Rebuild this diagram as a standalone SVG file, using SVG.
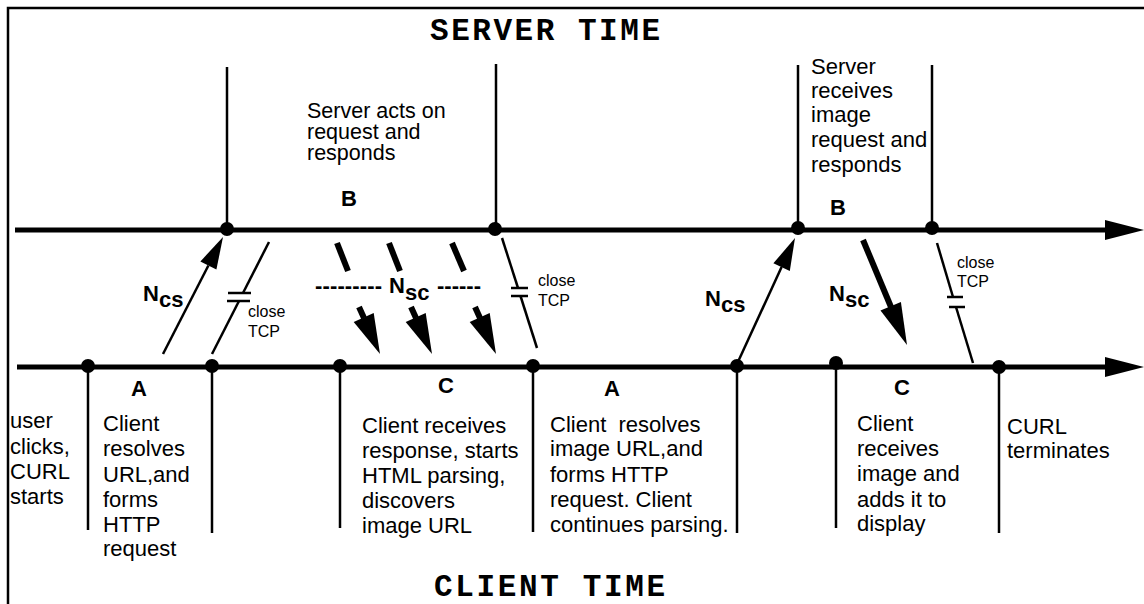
<svg xmlns="http://www.w3.org/2000/svg" width="1144" height="604" viewBox="0 0 1144 604">
  <style>
    .txt { font-family: "Liberation Sans", Arial, sans-serif; font-size: 22px; fill: #000; }
    .txt-tight { font-family: "Liberation Sans", Arial, sans-serif; font-size: 21.5px; fill: #000; }
    .small { font-family: "Liberation Sans", Arial, sans-serif; font-size: 16px; fill: #000; }
    .lbl { font-family: "Liberation Sans", Arial, sans-serif; font-size: 22px; font-weight: bold; fill: #000; }
    .title { font-family: "Liberation Mono", "Courier New", monospace; font-size: 31px; font-weight: bold; fill: #000; }
    .axis { stroke: #000; stroke-width: 5; fill: none; }
    .tick { stroke: #000; stroke-width: 2.5; fill: none; }
    .thin { stroke: #000; stroke-width: 2.5; fill: none; }
    .thick { stroke: #000; stroke-width: 6; fill: none; }
    .head { fill: #000; stroke: none; }
    .dot { fill: #000; }
  </style>

  <!-- outer frame -->
  <path d="M8,610 V8 H1150" fill="none" stroke="#000" stroke-width="2.5"/>

  <!-- titles -->
  <text class="title" x="430" y="40" textLength="230" lengthAdjust="spacing">SERVER TIME</text>
  <text class="title" x="434" y="596" textLength="231" lengthAdjust="spacing">CLIENT TIME</text>

  <!-- time axes -->
  <g id="server-axis">
    <line class="axis" x1="15" y1="230" x2="1106" y2="230"/>
    <polygon class="head" points="1105,220 1144,230 1105,240"/>
  </g>
  <g id="client-axis">
    <line class="axis" x1="17" y1="367" x2="1106" y2="367"/>
    <polygon class="head" points="1105,357 1144,367 1105,377"/>
  </g>

  <!-- server-side phase B: acts on request -->
  <g id="server-B1">
    <line class="tick" x1="227" y1="67" x2="227" y2="230"/>
    <line class="tick" x1="496" y1="64" x2="496" y2="230"/>
    <circle class="dot" cx="227" cy="229" r="7"/>
    <circle class="dot" cx="495" cy="229" r="7"/>
    <text class="txt-tight" x="307" y="118">Server acts on</text>
    <text class="txt-tight" x="307" y="139">request and</text>
    <text class="txt-tight" x="307" y="160">responds</text>
    <text class="lbl" x="349" y="206" text-anchor="middle">B</text>
  </g>

  <!-- server-side phase B: image request -->
  <g id="server-B2">
    <line class="tick" x1="798" y1="65" x2="798" y2="230"/>
    <line class="tick" x1="932" y1="65" x2="932" y2="230"/>
    <circle class="dot" cx="798" cy="228" r="7"/>
    <circle class="dot" cx="932" cy="228" r="7"/>
    <text class="txt" x="811" y="74">Server</text>
    <text class="txt" x="811" y="98">receives</text>
    <text class="txt" x="811" y="122">image</text>
    <text class="txt" x="811" y="147">request and</text>
    <text class="txt" x="811" y="172">responds</text>
    <text class="lbl" x="838" y="215" text-anchor="middle">B</text>
  </g>

  <!-- client start -->
  <g id="client-start">
    <text class="txt" x="10" y="428">user</text>
    <text class="txt" x="10" y="454">clicks,</text>
    <text class="txt" x="10" y="479">CURL</text>
    <text class="txt" x="10" y="504">starts</text>
  </g>

  <!-- client phase A: resolve URL -->
  <g id="client-A1">
    <line class="tick" x1="88" y1="367" x2="88" y2="530"/>
    <line class="tick" x1="212" y1="367" x2="212" y2="533"/>
    <circle class="dot" cx="88" cy="366" r="7"/>
    <circle class="dot" cx="212" cy="366" r="7"/>
    <text class="lbl" x="139" y="396" text-anchor="middle">A</text>
    <text class="txt" x="103" y="431">Client</text>
    <text class="txt" x="103" y="456">resolves</text>
    <text class="txt" x="103" y="482">URL,and</text>
    <text class="txt" x="103" y="507">forms</text>
    <text class="txt" x="103" y="532">HTTP</text>
    <text class="txt" x="103" y="556">request</text>
  </g>

  <!-- client phase C: receive response -->
  <g id="client-C1">
    <line class="tick" x1="340" y1="367" x2="340" y2="528"/>
    <circle class="dot" cx="340" cy="366" r="7"/>
    <text class="lbl" x="446" y="393" text-anchor="middle">C</text>
    <text class="txt" x="362" y="433">Client receives</text>
    <text class="txt" x="362" y="458">response, starts</text>
    <text class="txt" x="362" y="483">HTML parsing,</text>
    <text class="txt" x="362" y="508">discovers</text>
    <text class="txt" x="362" y="533">image URL</text>
  </g>

  <!-- client phase A: resolve image URL -->
  <g id="client-A2">
    <line class="tick" x1="533" y1="367" x2="533" y2="532"/>
    <circle class="dot" cx="533" cy="366" r="7"/>
    <text class="lbl" x="612" y="396" text-anchor="middle">A</text>
    <text class="txt" x="550" y="432" xml:space="preserve">Client  resolves</text>
    <text class="txt" x="550" y="456">image URL,and</text>
    <text class="txt" x="550" y="482">forms HTTP</text>
    <text class="txt" x="550" y="507">request. Client</text>
    <text class="txt" x="550" y="532">continues parsing.</text>
  </g>

  <!-- client phase C: receive image -->
  <g id="client-C2">
    <line class="tick" x1="737" y1="367" x2="737" y2="533"/>
    <line class="tick" x1="836" y1="367" x2="836" y2="528"/>
    <circle class="dot" cx="737" cy="366" r="7"/>
    <circle class="dot" cx="836" cy="363" r="7"/>
    <text class="lbl" x="902" y="395" text-anchor="middle">C</text>
    <text class="txt" x="857" y="431">Client</text>
    <text class="txt" x="857" y="456">receives</text>
    <text class="txt" x="857" y="481">image and</text>
    <text class="txt" x="857" y="507">adds it to</text>
    <text class="txt" x="857" y="531">display</text>
  </g>

  <!-- client end -->
  <g id="client-end">
    <line class="tick" x1="999" y1="367" x2="999" y2="533"/>
    <circle class="dot" cx="999" cy="367" r="7"/>
    <text class="txt" x="1007" y="434">CURL</text>
    <text class="txt" x="1007" y="458">terminates</text>
  </g>

  <!-- messages between client and server -->
  <g id="connectors">
    <!-- first request, client to server -->
    <line class="thin" x1="163" y1="354" x2="208.4" y2="265.5"/>
    <polygon class="head" points="223,237 216.4,269.6 200.4,261.4"/>
    <text class="lbl" x="143" y="301">N<tspan dy="6">cs</tspan></text>

    <!-- close TCP after first request -->
    <line class="thin" x1="269" y1="242" x2="243" y2="293"/>
    <line class="thin" x1="239" y1="301" x2="212" y2="354"/>
    <line class="thin" x1="228" y1="293" x2="251" y2="293"/>
    <line class="thin" x1="227" y1="301" x2="250" y2="301"/>
    <text class="small" x="248" y="317">close</text>
    <text class="small" x="248" y="337">TCP</text>

    <!-- response stream, server to client -->
    <line class="thick" x1="337" y1="243" x2="348" y2="271"/>
    <line class="thick" x1="359" y1="307" x2="364" y2="318"/>
    <polygon class="head" points="380,354 373.7,313 353.7,322"/>

    <line class="thick" x1="389" y1="243" x2="400" y2="271"/>
    <line class="thick" x1="411" y1="307" x2="416" y2="318"/>
    <polygon class="head" points="432,354 425.7,313 405.7,322"/>

    <line class="thick" x1="452" y1="243" x2="464" y2="271"/>
    <line class="thick" x1="475" y1="307" x2="480" y2="318"/>
    <polygon class="head" points="496,354 489.7,313 469.7,322"/>

    <text class="lbl" x="315" y="293" textLength="67" lengthAdjust="spacing">---------</text>
    <text class="lbl" x="389" y="293">N<tspan dy="7">sc</tspan></text>
    <text class="lbl" x="437" y="293" textLength="44" lengthAdjust="spacing">------</text>

    <!-- close TCP after response -->
    <line class="thin" x1="502" y1="238" x2="518" y2="288"/>
    <line class="thin" x1="520.5" y1="296" x2="537" y2="348"/>
    <line class="thin" x1="511" y1="288" x2="528" y2="288"/>
    <line class="thin" x1="511" y1="296" x2="528" y2="296"/>
    <text class="small" x="538" y="286">close</text>
    <text class="small" x="538" y="306">TCP</text>

    <!-- image request, client to server -->
    <line class="thin" x1="737" y1="364" x2="781.6" y2="267.1"/>
    <polygon class="head" points="795,238 789.8,270.9 773.4,263.3"/>
    <text class="lbl" x="705" y="306">N<tspan dy="6">cs</tspan></text>

    <!-- image response, server to client -->
    <line class="thick" x1="863" y1="240" x2="891" y2="307"/>
    <polygon class="head" points="907,345 900.9,301.9 880.5,310.5"/>
    <text class="lbl" x="829" y="301">N<tspan dy="6">sc</tspan></text>

    <!-- close TCP after image -->
    <line class="thin" x1="937" y1="243" x2="953" y2="297"/>
    <line class="thin" x1="956" y1="307" x2="973" y2="363"/>
    <line class="thin" x1="947" y1="297" x2="963" y2="297"/>
    <line class="thin" x1="949" y1="307" x2="965" y2="307"/>
    <text class="small" x="957" y="268">close</text>
    <text class="small" x="957" y="287">TCP</text>
  </g>
</svg>
